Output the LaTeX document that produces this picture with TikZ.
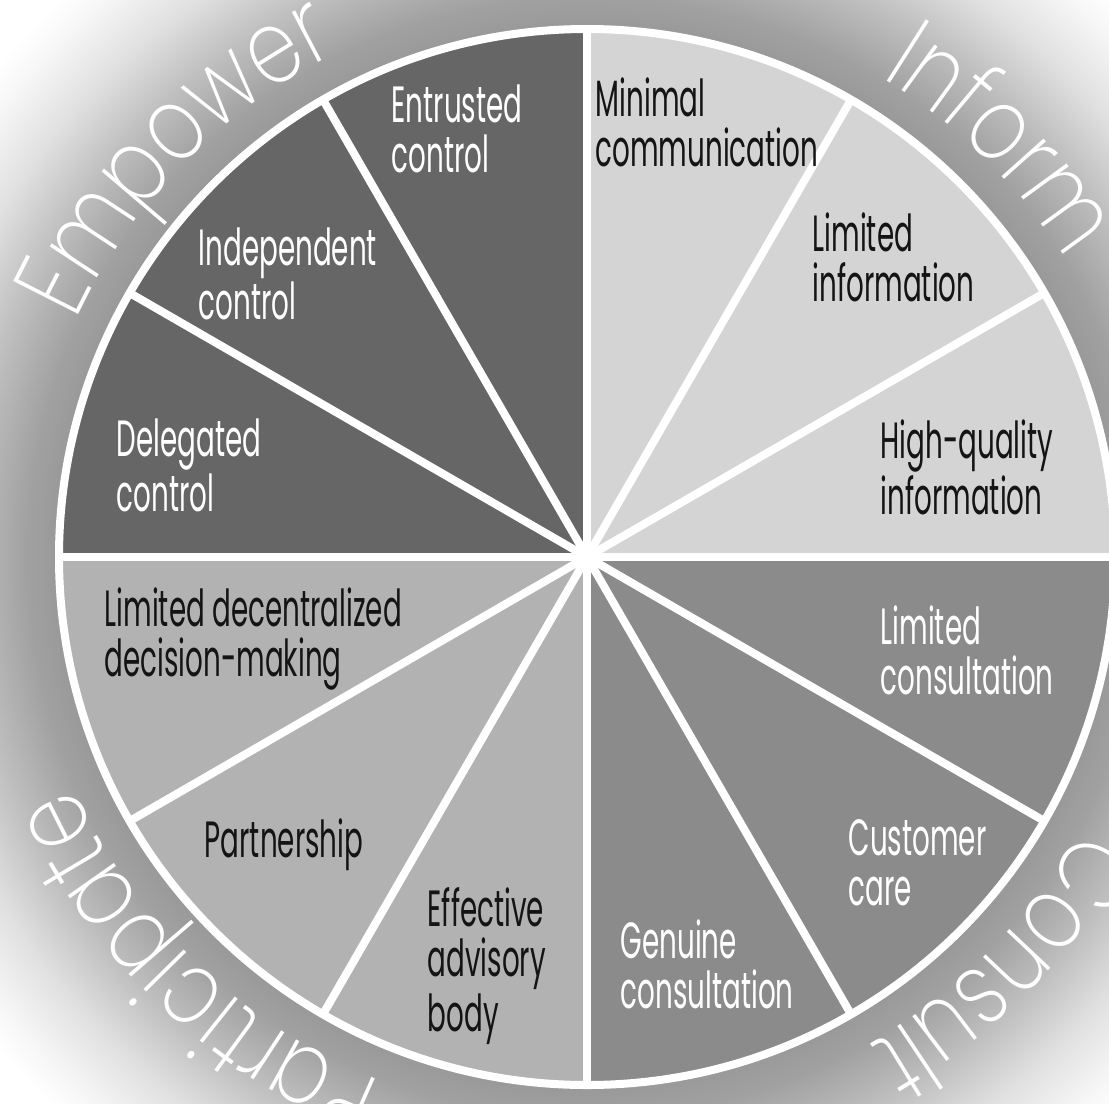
\documentclass[tikz,border=0pt]{standalone}
\usepackage{fontspec}
\newfontfamily\condfont[FakeStretch=0.545]{Poppins}
\newfontfamily\thinfont[FakeStretch=0.8]{Poppins ExtraLight}
\usetikzlibrary{calc,decorations.text}
\definecolor{empcol}{gray}{0.40}
\definecolor{infcol}{gray}{0.83}
\definecolor{concol}{gray}{0.545}
\definecolor{parcol}{gray}{0.70}
\definecolor{bgA}{gray}{0.60}
\definecolor{bgB}{gray}{0.63}
\definecolor{bgC}{gray}{0.75}
\definecolor{bgD}{gray}{0.88}
\definecolor{bgE}{gray}{0.97}
\definecolor{inktext}{gray}{0.08}
% the inner 25bp radius maps onto the radius of the shaded circle (8cm = 800px)
\pgfdeclareradialshading{bgshade}{\pgfpoint{0bp}{0bp}}{color(0bp)=(bgA); color(16.56bp)=(bgA); color(17.5bp)=(bgB); color(19.4bp)=(bgC); color(21.25bp)=(bgD); color(23.1bp)=(bgE); color(24bp)=(white); color(50bp)=(white)}
\begin{document}
\begin{tikzpicture}[x=1cm,y=1cm,
  lbl/.style={font=\condfont\fontsize{14.5}{14.22}\selectfont, align=left, anchor=north west, inner sep=0pt},
  darklbl/.style={lbl, text=white},
  lightlbl/.style={lbl, text=inktext},
  spoke/.style={white, line width=0.08cm},
  rim/.style={white, line width=0.08cm},
  arclabel/.style={decorate, decoration={text along path, text={|\thinfont\fontsize{29.5}{30}\selectfont|#1}, text align=center, text color=white}}
]
\useasboundingbox (0,0) rectangle (11.09,-11.03);
\coordinate (C) at (5.87,-5.57);
\begin{scope}
\clip (0,0) rectangle (11.09,-11.03);
\shade[shading=bgshade] (C) circle (8);
\fill[infcol] (C) -- ++(0:5.28) arc[start angle=0,end angle=90,radius=5.28] -- cycle;
\fill[empcol] (C) -- ++(90:5.28) arc[start angle=90,end angle=180,radius=5.28] -- cycle;
\fill[parcol] (C) -- ++(180:5.28) arc[start angle=180,end angle=270,radius=5.28] -- cycle;
\fill[concol] (C) -- ++(270:5.28) arc[start angle=270,end angle=360,radius=5.28] -- cycle;
\draw[rim] (C) circle (5.28);
\foreach \a in {0,30,...,330} \coordinate (r\a) at ($(C)+(\a:5.26)$);
\foreach \a in {0,30,...,330} \draw[spoke] (C) -- (r\a);
\end{scope}
\node[darklbl] (entrusted) at (3.91,-0.84) {Entrusted\\control};
\node[darklbl] (independent) at (1.98,-2.27) {Independent\\control};
\node[darklbl] (delegated) at (1.16,-4.18) {Delegated\\control};
\node[lightlbl] (minimal) at (5.95,-0.77) {Minimal\\communication};
\node[lightlbl] (limitedinfo) at (8.12,-2.12) {Limited\\information};
\node[lightlbl] (highquality) at (8.80,-4.19) {High-quality\\information};
\node[darklbl] (limitedcons) at (8.80,-6.05) {Limited\\consultation};
\node[darklbl] (customer) at (8.48,-8.19) {Customer\\care};
\node[darklbl] (genuine) at (6.20,-9.19) {Genuine\\consultation};
\node[lightlbl] (effective) at (4.27,-8.87) {Effective\\advisory\\body};
\node[lightlbl] (partnership) at (2.04,-8.18) {Partnership};
\node[lightlbl] (limiteddec) at (1.04,-5.87) {Limited decentralized\\decision-making};
\path[arclabel=Empower] ($(C)+(165.7:5.63)$) arc[start angle=165.7,end angle=105.7,radius=5.63];
\path[arclabel=Inform] ($(C)+(75.1:5.63)$) arc[start angle=75.1,end angle=15.1,radius=5.63];
\path[arclabel=Consult] ($(C)+(-14.4:5.63)$) arc[start angle=-14.4,end angle=-74.4,radius=5.63];
\path[arclabel=Participate] ($(C)+(256.3:5.63)$) arc[start angle=256.3,end angle=196.3,radius=5.63];
\end{tikzpicture}
\end{document}
